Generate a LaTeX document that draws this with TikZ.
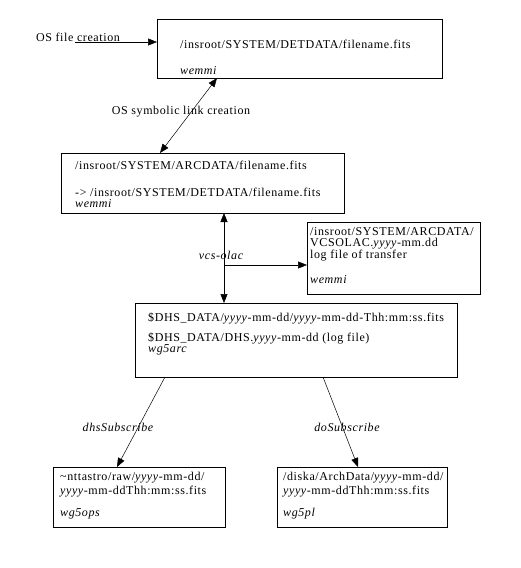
\documentclass[tikz,border=0pt]{standalone}
\usepackage{fontspec}
\setmainfont[LetterSpace=5]{Liberation Serif}
\usetikzlibrary{arrows.meta}
\begin{document}
\begin{tikzpicture}[x=1pt,y=-1pt,
  box/.style={draw,line width=0.9pt},
  txt/.style={anchor=west,inner sep=0pt,font=\fontsize{12}{13}\selectfont},
  lbl/.style={inner sep=1pt,font=\fontsize{12}{13}\selectfont},
  conn/.style={line width=0.5pt,-{Triangle[length=9pt,width=7pt]}},
  bconn/.style={line width=0.5pt,{Triangle[length=9pt,width=7pt]}-{Triangle[length=9pt,width=7pt]}}]
\useasboundingbox (0,0) rectangle (520,568);
% boxes
\node[box,minimum width=285,minimum height=59,anchor=north west,inner sep=0] (b1) at (157,19) {};
\node[box,minimum width=283,minimum height=60,anchor=north west,inner sep=0] (b2) at (61,153) {};
\node[box,minimum width=173,minimum height=72,anchor=north west,inner sep=0] (b4) at (307,222) {};
\node[box,minimum width=322,minimum height=74,anchor=north west,inner sep=0] (b3) at (135,303) {};
\node[box,minimum width=172,minimum height=60,anchor=north west,inner sep=0] (b5) at (53,467) {};
\node[box,minimum width=170,minimum height=60,anchor=north west,inner sep=0] (b6) at (277,467) {};
% texts
\node[txt] (t1a) at (180,44) {/insroot/SYSTEM/DETDATA/filename.fits};
\node[txt] (t1b) at (180,71) {\itshape wemmi};
\node[txt] (t2a) at (75,165) {/insroot/SYSTEM/ARCDATA/filename.fits};
\node[txt] (t2b) at (75,192) {-> /insroot/SYSTEM/DETDATA/filename.fits};
\node[txt] (t2c) at (75,204) {\itshape wemmi};
\node[txt] (t4a) at (310,232) {/insroot/SYSTEM/ARCDATA/};
\node[txt] (t4b) at (310,244) {VCSOLAC.\textit{yyyy}-mm.dd};
\node[txt] (t4c) at (310,256) {log file of transfer};
\node[txt] (t4d) at (310,280) {\itshape wemmi};
\node[txt] (t3a) at (148,318) {\$DHS\_DATA/\textit{yyyy}-mm-dd/\textit{yyyy}-mm-dd-Thh:mm:ss.fits};
\node[txt] (t3b) at (148,338) {\$DHS\_DATA/DHS.\textit{yyyy}-mm-dd (log file)};
\node[txt] (t3c) at (148,350) {\itshape wg5arc};
\node[txt] (t5a) at (60,478) {\textasciitilde nttastro/raw/\textit{yyyy}-mm-dd/};
\node[txt] (t5b) at (60,492) {\textit{yyyy}-mm-ddThh:mm:ss.fits};
\node[txt] (t5c) at (60,514) {\itshape wg5ops};
\node[txt] (t6a) at (283,478) {/diska/ArchData/\textit{yyyy}-mm-dd/};
\node[txt] (t6b) at (283,492) {\textit{yyyy}-mm-ddThh:mm:ss.fits};
\node[txt] (t6c) at (283,514) {\itshape wg5pl};
% connectors
\node[lbl] (l1) at (78,37) {OS file creation};
\coordinate (c1) at (75,42);
\draw[conn] (c1) -- (b1.west |- c1);
\coordinate (s1) at (217,78);
\coordinate (s2) at (160,153);
\draw[bconn] (s2) -- (s1);
\node[lbl] (l2) at (181,112) {OS symbolic link creation};
\coordinate (v1) at (224,213);
\coordinate (v2) at (224,303);
\draw[bconn] (v1) -- (v2);
\coordinate (vb) at (224,265);
\draw[conn] (vb) -- (b4.west |- vb);
\node[lbl] (l3) at (221,255) {\itshape vcs-olac};
\coordinate (d1) at (165,377);
\coordinate (d2) at (117,467);
\draw[conn] (d1) -- (d2);
\node[lbl] (l4) at (118,427) {\itshape dhsSubscribe};
\coordinate (e1) at (323,377);
\coordinate (e2) at (358,467);
\draw[conn] (e1) -- (e2);
\node[lbl] (l5) at (347,427) {\itshape doSubscribe};
\end{tikzpicture}
\end{document}
